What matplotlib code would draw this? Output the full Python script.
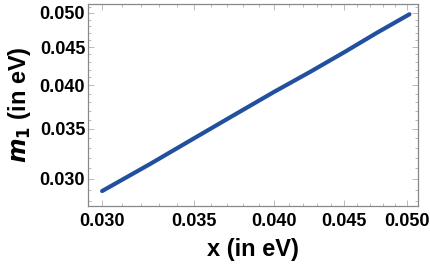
import numpy as np
import matplotlib
matplotlib.use("Agg")
import matplotlib.pyplot as plt
from matplotlib.ticker import FixedLocator, FixedFormatter, NullFormatter

# data (log-log axes)
x_vals = [0.0300, 0.0325, 0.0350, 0.0375, 0.0400, 0.0425, 0.0450, 0.0475, 0.0502]
m1_vals = [0.0289, 0.0314, 0.0340, 0.0366, 0.0392, 0.0417, 0.0443, 0.0470, 0.0498]

x_ticks = [0.030, 0.035, 0.040, 0.045, 0.050]
y_ticks = [0.030, 0.035, 0.040, 0.045, 0.050]
tick_labels = ["0.030", "0.035", "0.040", "0.045", "0.050"]
minor_ticks = [0.028 + 0.001 * i for i in range(25)]

plt.rcParams['font.family'] = ['Liberation Sans', 'DejaVu Sans']

fig = plt.figure(figsize=(4.30, 2.73), dpi=100)
ax = fig.add_axes([0.2047, 0.2454, 0.7675, 0.74])

ax.plot(x_vals, m1_vals, color='#22509f', lw=3.0, solid_capstyle='round')

ax.set_xscale('log')
ax.set_yscale('log')
ax.set_xlim(0.0293, 0.05093)
ax.set_ylim(0.0276, 0.0514)

for axis, ticks in ((ax.xaxis, x_ticks), (ax.yaxis, y_ticks)):
    axis.set_major_locator(FixedLocator(ticks))
    axis.set_major_formatter(FixedFormatter(tick_labels))
    axis.set_minor_locator(FixedLocator(minor_ticks))
    axis.set_minor_formatter(NullFormatter())

ax.tick_params(which='both', direction='in', top=True, right=True,
               color='#b0b0b0', width=0.6)
ax.tick_params(which='major', length=4, labelsize=13)
ax.tick_params(which='minor', length=2)
ax.tick_params(axis='x', which='major', pad=5)
ax.tick_params(axis='y', which='major', pad=2)
for lab in ax.get_xticklabels() + ax.get_yticklabels():
    lab.set_fontweight('bold')

for s in ax.spines.values():
    s.set_color('#888888')
    s.set_linewidth(0.9)

ax.set_xlabel('x (in eV)', fontsize=17, fontweight='bold', labelpad=6)
ax.set_ylabel(r'$\boldsymbol{m}_\mathbf{1}$ (in eV)', fontsize=17, fontweight='bold', labelpad=5)

fig.savefig('out.png', dpi=100)
